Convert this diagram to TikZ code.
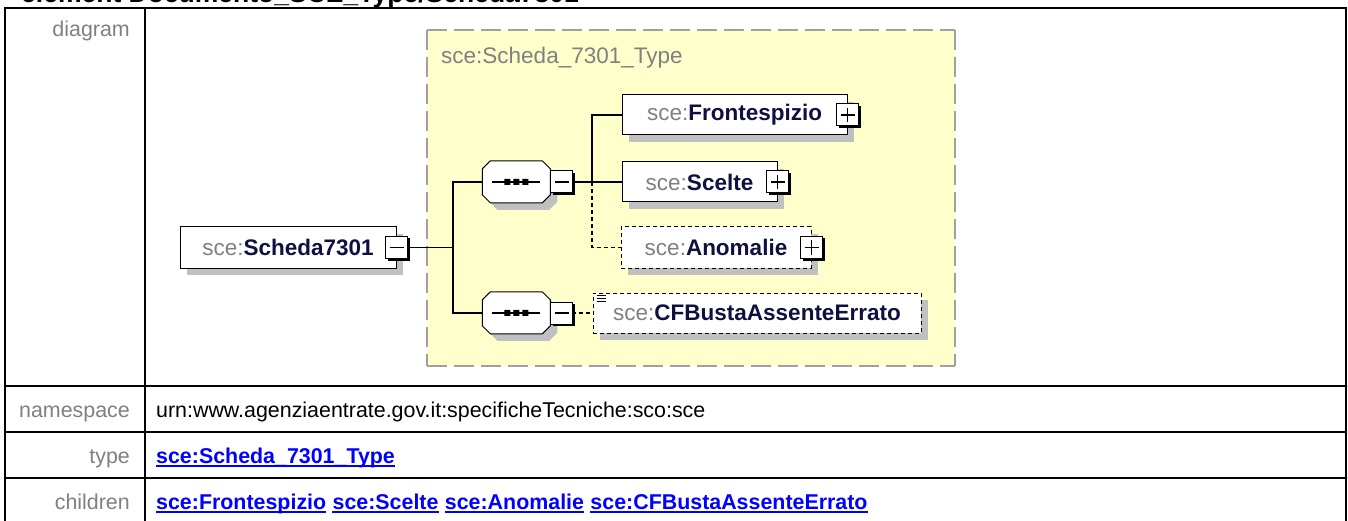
\documentclass[tikz,border=0pt]{standalone}
\usepackage{fontspec}
\setmainfont{Liberation Sans}
\usetikzlibrary{shadows,calc}
\definecolor{nsgray}{HTML}{808080}
\definecolor{namecol}{HTML}{101040}
\definecolor{shadowgray}{HTML}{C0C0C0}
\definecolor{typeyellow}{HTML}{FFFFCC}
\definecolor{typeborder}{HTML}{A0A0A0}
\definecolor{linkblue}{HTML}{0000FF}
\definecolor{labelgray}{HTML}{808080}
\newcommand\elname[1]{{\color{nsgray}sce:}{\color{namecol}\bfseries #1}}
\tikzset{
  elem/.style={draw=black, line width=1pt, fill=white, inner sep=0pt, minimum height=41pt,
    font=\fontsize{22.5}{26}\selectfont,
    drop shadow={shadow xshift=7pt, shadow yshift=-7pt, fill=shadowgray, opacity=1}},
  optelem/.style={elem, dash pattern=on 4pt off 3pt},
  tog/.style={draw=black, line width=1pt, fill=white, minimum size=22pt, inner sep=0pt,
    drop shadow={shadow xshift=2pt, shadow yshift=-2pt, fill=black, opacity=1}},
  minusbox/.style={tog, path picture={\draw[line width=1.3pt]
      ($(path picture bounding box.west)+(4,0)$) -- ($(path picture bounding box.east)+(-4,0)$);}},
  plusbox/.style={tog, path picture={\draw[line width=1.3pt]
      ($(path picture bounding box.west)+(4,0)$) -- ($(path picture bounding box.east)+(-4,0)$)
      ($(path picture bounding box.north)+(0,4)$) -- ($(path picture bounding box.south)+(0,-4)$);}},
  seqnode/.style={minimum width=68pt, minimum height=42pt, inner sep=0pt},
  seqpic/.pic={
    \fill[shadowgray] (15,7)--(67,7)--(75,15)--(75,41)--(67,49)--(15,49)--(7,41)--(7,15)--cycle;
    \draw[line width=1pt, fill=white] (8,0)--(60,0)--(68,8)--(68,34)--(60,42)--(8,42)--(0,34)--(0,8)--cycle;
    \draw[line width=1.6pt] (10,21)--(58,21);
    \fill (22,18) rectangle (28,24) (31,18) rectangle (37,24) (40,18) rectangle (46,24);
  },
  conn/.style={line width=1.2pt, draw=black},
  optconn/.style={conn, dash pattern=on 4pt off 3pt},
  lbl/.style={font=\fontsize{21.4}{25}\selectfont, text=labelgray, inner sep=0pt},
  val/.style={font=\fontsize{21.4}{25}\selectfont, text=black, inner sep=0pt},
  link/.style={font=\fontsize{21.4}{25}\selectfont\bfseries, text=linkblue, inner sep=0pt},
  uline/.style={draw=linkblue, line width=1.6pt},
  tablerule/.style={line width=2.6pt, draw=black}
}
\begin{document}
\begin{tikzpicture}[x=1pt,y=-1pt]
\useasboundingbox (0,0) rectangle (1348,521);
% heading (cut off at the top)
\node[anchor=base west, inner sep=0pt, font=\fontsize{26.5}{30}\selectfont\bfseries] (title) at (21,3) {element Documento\_SCE\_Type/Scheda7301};
% table
\draw[tablerule] (5,530) -- (5,8) -- (1346,8) -- (1346,530);
\draw[tablerule] (145,8) -- (145,530);
\draw[tablerule] (5,386) -- (1346,386);
\draw[tablerule] (5,432) -- (1346,432);
\draw[tablerule] (5,478) -- (1346,478);
% labels
\node[lbl, anchor=base east] (ldiag) at (130,37) {diagram};
\node[lbl, anchor=base east] (lns) at (130,417) {namespace};
\node[lbl, anchor=base east] (ltype) at (130,463) {type};
\node[lbl, anchor=base east] (lch) at (130,509) {children};
% values
\node[val, anchor=base west] (vns) at (156,417) {urn:www.agenziaentrate.gov.it:specificheTecniche:sco:sce};
\node[link, anchor=base west] (vtype) at (156,463) {sce:Scheda\_7301\_Type};
\draw[uline] ($(vtype.base west)+(0,3)$) -- ($(vtype.base east)+(0,3)$);
\node[link, anchor=base west] (c1) at (156,509) {sce:Frontespizio};
\node[link, anchor=base west] (c2) at ($(c1.base east)+(6,0)$) {sce:Scelte};
\node[link, anchor=base west] (c3) at ($(c2.base east)+(6,0)$) {sce:Anomalie};
\node[link, anchor=base west] (c4) at ($(c3.base east)+(6,0)$) {sce:CFBustaAssenteErrato};
\foreach \c in {c1,c2,c3,c4} \draw[uline] ($(\c.base west)+(0,3)$) -- ($(\c.base east)+(0,3)$);
% complex type area
\fill[typeyellow] (427,30) rectangle (955,366);
\draw[draw=typeborder, line width=2pt, dash pattern=on 20pt off 7pt] (427,30) -- (955,30);
\draw[draw=typeborder, line width=2pt, dash pattern=on 20pt off 7pt] (427,366) -- (955,366);
\draw[draw=typeborder, line width=2pt, dash pattern=on 20pt off 7pt] (427,30) -- (427,366);
\draw[draw=typeborder, line width=2pt, dash pattern=on 20pt off 7pt] (955,30) -- (955,366);
\node[anchor=base west, inner sep=0pt, font=\fontsize{22.5}{26}\selectfont, text=nsgray] (tname) at (441,64) {sce:Scheda\_7301\_Type};
% elements
\node[elem, minimum width=216pt] (sch) at (288,247.5) {\elname{Scheda7301}\hspace{6pt}};
\node[elem, minimum width=225pt, minimum height=40pt] (fron) at (734.5,115) {\elname{Frontespizio}\hspace{6pt}};
\node[elem, minimum width=155pt, minimum height=40pt] (scel) at (699.5,182) {\elname{Scelte}\hspace{6pt}};
\node[optelem, minimum width=190pt] (anom) at (716,247.5) {\elname{Anomalie}\hspace{6pt}};
\node[optelem, minimum width=328pt, minimum height=40pt] (cfb) at (757,313) {\elname{CFBustaAssenteErrato}};
\draw[line width=1pt] ($(cfb.north west)+(4,3)$) -- +(9,0) ($(cfb.north west)+(4,6)$) -- +(9,0) ($(cfb.north west)+(4,9)$) -- +(9,0);
% sequences
\node[seqnode] (seq1) at (516.5,182) {};
\pic at (seq1.north west) {seqpic};
\node[seqnode] (seq2) at (516.5,313) {};
\pic at (seq2.north west) {seqpic};
% connectors
\coordinate (j1) at (453,247.5);
\coordinate (j2) at (592,182);
\draw[conn] (sch.east) -- (j1);
\draw[conn] (seq1.west) -| (j1) |- (seq2.west);
\draw[conn] (seq1.east) -- (j2);
\draw[conn] (fron.west) -| (j2) -- (scel.west);
\draw[optconn] (j2) |- (anom.west);
\draw[optconn] (seq2.east) -- (cfb.west);
% toggles
\node[minusbox] (schm) at (sch.east) {};
\node[plusbox] (fronp) at (fron.east) {};
\node[plusbox] (scelp) at (scel.east) {};
\node[plusbox] (anomp) at (anom.east) {};
\node[minusbox] (seq1m) at ($(seq1.east)+(11,0)$) {};
\node[minusbox] (seq2m) at ($(seq2.east)+(11,0)$) {};
\end{tikzpicture}
\end{document}
